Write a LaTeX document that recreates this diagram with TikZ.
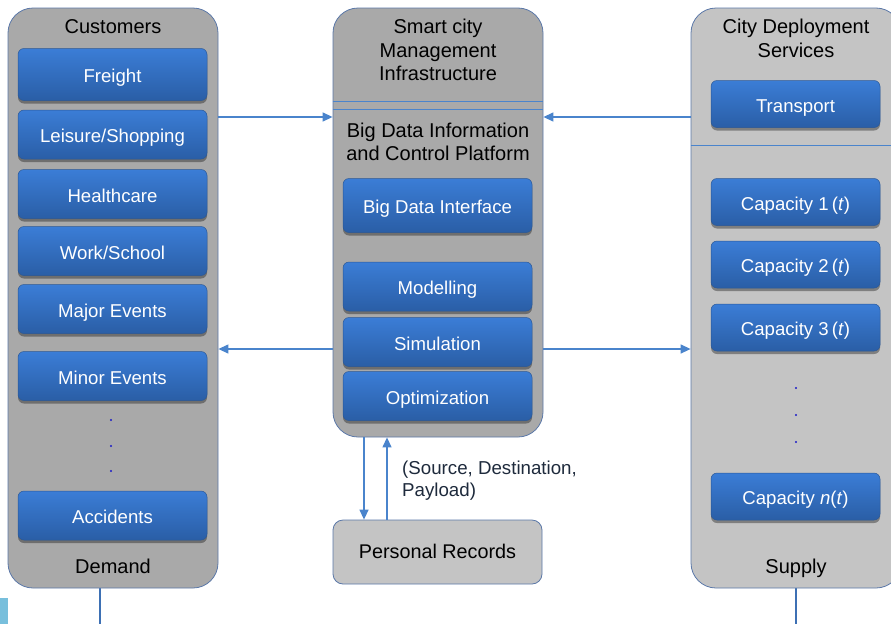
\documentclass[tikz,border=0pt]{standalone}
\usepackage{fontspec}
\setmainfont{Liberation Sans}
\usetikzlibrary{arrows.meta,shadows}
\definecolor{contA}{HTML}{A9A9A9}
\definecolor{contB}{HTML}{C4C4C4}
\definecolor{edgeC}{HTML}{5B78A8}
\definecolor{btop}{HTML}{3B7DD6}
\definecolor{bbot}{HTML}{2A5EA6}
\definecolor{bdraw}{HTML}{2B5896}
\definecolor{arrC}{HTML}{4A84CC}
\definecolor{stemC}{HTML}{3D70B4}
\definecolor{dotC}{HTML}{1A1AC8}
\definecolor{lblC}{HTML}{1E2A3C}
\definecolor{lightsq}{HTML}{78BFDC}
\tikzset{
  container/.style={draw=edgeC, line width=0.8pt, rounded corners=25pt, inner sep=0pt},
  btn/.style={rounded corners=6pt, top color=btop, bottom color=bbot, draw=bdraw, line width=0.5pt,
    text=white, font=\fontsize{18.6}{22}\selectfont, inner sep=0pt, minimum height=49pt,
    text height=16.5pt, text depth=0pt,
    drop shadow={shadow xshift=0pt, shadow yshift=-3pt, fill=black, opacity=0.35}},
  lbtn/.style={btn, minimum width=189pt},
  rbtn/.style={btn, minimum width=169pt, minimum height=47pt},
  ttl/.style={font=\fontsize{20}{23.5}\selectfont, align=center, inner sep=0pt, text=black},
  ttlb/.style={font=\fontsize{20}{23.5}\selectfont, anchor=base, inner sep=0pt, text=black},
  arr/.style={draw=arrC, line width=1.3pt, -{Triangle[length=10pt,width=9pt]}},
  stem/.style={draw=stemC, line width=2.2pt},
  dotn/.style={circle, fill=dotC, inner sep=0pt, minimum size=2.4pt},
}
\begin{document}
\begin{tikzpicture}[x=1pt,y=-1pt]
\useasboundingbox (0,0) rectangle (891,624);
\begin{scope}
\clip (0,0) rectangle (891,624);
% stems
\draw[stem] (100,588) coordinate (ls1) -- (100,624) coordinate (ls2);
\draw[stem] (796,588) coordinate (rs1) -- (796,624) coordinate (rs2);
\fill[lightsq] (0,598) rectangle (8,624);
% containers
\node[container, fill=contA, minimum width=210pt, minimum height=580pt] (cust) at (113,298) {};
\node[container, fill=contA, minimum width=210pt, minimum height=429pt] (mgmt) at (438,222.5) {};
\node[container, fill=contB, minimum width=210pt, minimum height=580pt] (dep) at (796,298) {};
\node[draw=edgeC, line width=0.8pt, fill=contB, rounded corners=10pt, minimum width=209pt, minimum height=64pt,
  font=\fontsize{19.8}{22}\selectfont, inner sep=0pt, text height=12pt, text depth=0pt] (pr) at (437.5,552) {Personal Records};
% separators
\draw[draw=arrC, line width=0.8pt] (mgmt.west |- 0,101) -- (mgmt.east |- 0,101);
\draw[draw=arrC, line width=0.8pt] (mgmt.west |- 0,109) -- (mgmt.east |- 0,109);
\draw[draw=arrC, line width=0.8pt] (dep.west |- 0,145) -- (dep.east |- 0,145);
% titles
\node[ttlb] (t1) at (113,33) {Customers};
\node[ttlb] (t2) at (113,573) {Demand};
\node[ttl] (t3) at (438,50) {Smart city\\Management\\Infrastructure};
\node[ttl] (t4) at (438,142) {Big Data Information\\and Control Platform};
\node[ttl] (t5) at (796,38.5) {City Deployment\\Services};
\node[ttlb] (t6) at (796,573) {Supply};
% left buttons
\node[lbtn, minimum height=52pt] (b1) at (112.5,74.5) {Freight};
\node[lbtn] (b2) at (112.5,134.5) {Leisure/Shopping};
\node[lbtn] (b3) at (112.5,194) {Healthcare};
\node[lbtn] (b4) at (112.5,251) {Work/School};
\node[lbtn] (b5) at (112.5,309) {Major Events};
\node[lbtn] (b6) at (112.5,376) {Minor Events};
\node[lbtn] (b7) at (112.5,515.5) {Accidents};
\node[dotn] (ld1) at (111,420) {};
\node[dotn] (ld2) at (111,446) {};
\node[dotn] (ld3) at (111,471) {};
% centre buttons
\node[lbtn, minimum height=54pt] (c1) at (437.5,205.5) {Big Data Interface};
\node[lbtn] (c2) at (437.5,286.5) {Modelling};
\node[lbtn] (c3) at (437.5,342) {Simulation};
\node[lbtn] (c4) at (437.5,396) {Optimization};
% right buttons
\node[rbtn] (r1) at (795.5,104) {Transport};
\node[rbtn] (r2) at (795.5,202) {Capacity 1\,(\textit{t})};
\node[rbtn] (r3) at (795.5,264.5) {Capacity 2\,(\textit{t})};
\node[rbtn] (r4) at (795.5,327.5) {Capacity 3\,(\textit{t})};
\node[rbtn] (r5) at (795.5,496.5) {Capacity \textit{n}(\textit{t})};
\node[dotn] (rd1) at (796,388) {};
\node[dotn] (rd2) at (796,415) {};
\node[dotn] (rd3) at (796,442) {};
% arrows
\draw[arr] (cust.east |- 0,117) -- (mgmt.west |- 0,117);
\draw[arr] (dep.west |- 0,117) -- (mgmt.east |- 0,117);
\draw[arr] (mgmt.west |- 0,349) -- (cust.east |- 0,349);
\draw[arr] (mgmt.east |- 0,349) -- (dep.west |- 0,349);
\draw[arr] (364,0 |- mgmt.south) -- (364,0 |- pr.north);
\draw[arr] (387,0 |- pr.north) -- (387,0 |- mgmt.south);
\node[anchor=base west, align=left, inner sep=0pt, text=lblC, font=\fontsize{18.7}{22}\selectfont] (lbl) at (402,496) {(Source, Destination,\\Payload)};
\end{scope}
\end{tikzpicture}
\end{document}
